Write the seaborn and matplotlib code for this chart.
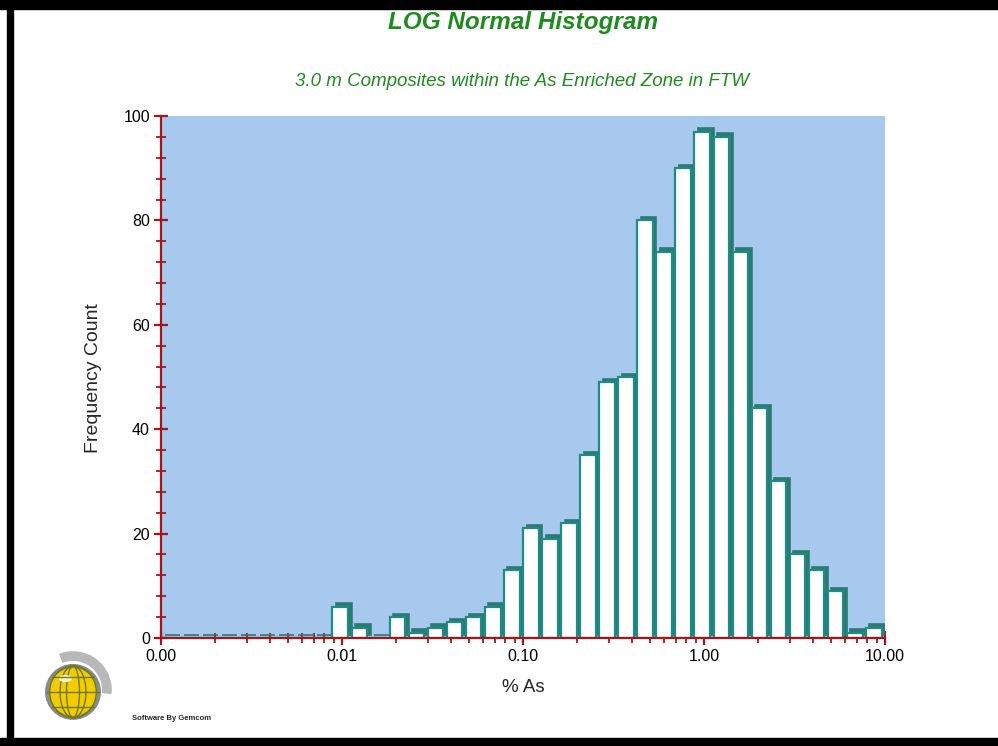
import numpy as np
import pandas as pd
import matplotlib
matplotlib.use("Agg")
import matplotlib.pyplot as plt
import matplotlib.transforms as mtransforms
from matplotlib.patches import Rectangle, Circle, Wedge, Ellipse
import seaborn as sns

# histogram definition: 38 equal bins in log10 space from 0.001 to 10
n_bins = 38
log_lo = -3
log_hi = 1
counts = [0, 0, 0, 0, 0, 0, 0, 0, 0,
          6, 2, 0, 4, 1, 2, 3, 4, 6, 13,
          21, 19, 22, 35, 49, 50, 80, 74, 90, 97,
          96, 74, 44, 30, 16, 13, 9, 1, 2]
x_tick_labels = ["0.00", "0.01", "0.10", "1.00", "10.00"]
y_ticks = [0, 20, 40, 60, 80, 100]

title = "LOG Normal Histogram"
subtitle = "3.0 m Composites within the As Enriched Zone in FTW"

sns.set_style("white")
plt.rcParams["font.family"] = ["Liberation Sans", "DejaVu Sans"]

bg_blue = "#A7C9EE"
teal = "#1E8C84"
teal_dark = "#2C7A73"
axis_red = "#A3161B"
green = "#1C8C1C"

edges = np.linspace(log_lo, log_hi, n_bins + 1)
df = pd.DataFrame({"logx": (edges[:-1] + edges[1:]) / 2, "count": counts})

fig = plt.figure(figsize=(9.98, 7.46), dpi=100)
ax = fig.add_axes([161 / 998, 1 - 638 / 746, (885 - 161) / 998, (638 - 116) / 746])
ax.set_facecolor(bg_blue)

shrink = 0.82
gap_px = 1.7     # half of the gap left by shrink
depth_px = 3.5   # 3D depth of each bar

# shadow (depth) of the 3D bars
sns.histplot(data=df, x="logx", weights="count", bins=n_bins, binrange=(log_lo, log_hi),
             shrink=shrink, ax=ax, color=teal_dark, edgecolor=teal_dark,
             linewidth=1.2, alpha=1)
n_shadow = len(ax.patches)
back = mtransforms.ScaledTranslation((depth_px - gap_px) / 100, depth_px / 100,
                                     fig.dpi_scale_trans)
for p in ax.patches:
    p.set_transform(ax.transData + back)

# front faces
sns.histplot(data=df, x="logx", weights="count", bins=n_bins, binrange=(log_lo, log_hi),
             shrink=shrink, ax=ax, color="white", edgecolor=teal, linewidth=1.6, alpha=1)
front = mtransforms.ScaledTranslation(-gap_px / 100, 0, fig.dpi_scale_trans)
for p in ax.patches[n_shadow:]:
    p.set_transform(ax.transData + front)

ax.set_xlim(log_lo, log_hi)
ax.set_ylim(0, 100)
ax.set_xlabel("")
ax.set_ylabel("")

ax.set_xticks(range(log_lo, log_hi + 1))
ax.set_xticklabels(x_tick_labels)
ax.set_xticks([d + np.log10(k) for d in range(log_lo, log_hi) for k in range(2, 10)], minor=True)
ax.set_yticks(y_ticks)
ax.set_yticks(range(0, 101, 4), minor=True)

for s in ["top", "right"]:
    ax.spines[s].set_visible(False)
for s in ["left", "bottom"]:
    ax.spines[s].set_color(axis_red)
    ax.spines[s].set_linewidth(1.6)
    ax.spines[s].set_zorder(5)
ax.tick_params(which="both", bottom=True, left=True, direction="inout")
ax.tick_params(which="major", length=10, width=1.6, color=axis_red,
               labelsize=11.5, labelcolor="black", pad=3)
ax.tick_params(which="minor", length=7, width=1.3, color=axis_red)

fig.text(523 / 998, 1 - 23 / 746, title, ha="center", va="center", color=green,
         fontsize=17.5, fontweight="bold", fontstyle="italic")
fig.text(522 / 998, 1 - 82 / 746, subtitle, ha="center", va="center", color=green,
         fontsize=13.5, fontstyle="italic")
fig.text(93 / 998, 1 - 378 / 746, "Frequency Count", rotation=90, ha="center",
         va="center", fontsize=14)
fig.text(523 / 998, 1 - 688 / 746, "% As", ha="center", va="center", fontsize=13.5)
fig.text(132 / 998, 1 - 718 / 746, "Software By Gemcom", ha="left", va="center",
         fontsize=5.5, fontweight="bold")

# black frame
frame = [(0, 0, 998, 9), (7, 0, 6, 746), (0, 738, 998, 8)]
for x0, y0, w, h in frame:
    fig.patches.append(Rectangle((x0 / 998, 1 - (y0 + h) / 746), w / 998, h / 746,
                                 transform=fig.transFigure, color="black", zorder=10))

# logo
lax = fig.add_axes([33 / 998, 1 - 730 / 746, 80 / 998, 80 / 746])
lax.set_xlim(-1.05, 1.05)
lax.set_ylim(-1.05, 1.05)
lax.set_aspect("equal")
lax.axis("off")
lax.add_patch(Wedge((0, 0), 1.0, -5, 110, width=0.22, color="#B8B8B8"))
lax.add_patch(Circle((0, -0.05), 0.68, facecolor="#F2CC00", edgecolor="#8A8A8A", lw=3))
for w in [0.25, 0.5, 0.9]:
    lax.add_patch(Ellipse((0, -0.05), w * 1.36, 1.36, fill=False, edgecolor="#6E7A10", lw=1))
for yy in [-0.45, -0.05, 0.35]:
    half = np.sqrt(max(0.68 ** 2 - (yy + 0.05) ** 2, 0))
    lax.plot([-half, half], [yy, yy], color="#6E7A10", lw=1)
lax.add_patch(Ellipse((-0.2, 0.3), 0.3, 0.15, color="white", alpha=0.8))

fig.savefig("out.png", dpi=100)
